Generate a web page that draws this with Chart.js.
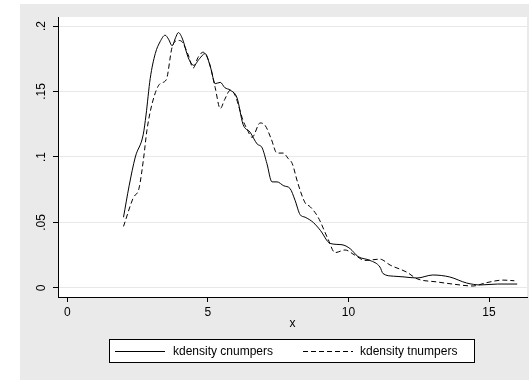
<!DOCTYPE html>
<html>
<head>
<meta charset="utf-8">
<script src="https://cdn.jsdelivr.net/npm/chart.js@4.4.1/dist/chart.umd.min.js"></script>
<style>
  html, body { margin: 0; padding: 0; background: #ffffff; }
  #wrap { width: 529px; height: 380px; position: relative; }
</style>
</head>
<body>
<div id="wrap"><canvas id="kd"></canvas></div>
<script>
// kdensity cnumpers (x, density)
const cnumX = [2.0, 2.2, 2.42, 2.7, 2.8, 2.95, 3.13, 3.3, 3.48, 3.6, 3.73, 3.85, 3.95, 4.1, 4.3, 4.5, 4.7, 4.9, 5.1, 5.26, 5.44, 5.6, 5.8, 6.04, 6.25, 6.5, 6.75, 6.93, 7.1, 7.28, 7.46, 7.7, 7.92, 8.1, 8.28, 8.46, 8.75, 9.0, 9.35, 9.77, 10.06, 10.34, 10.77, 11.12, 11.23, 11.6, 11.94, 12.44, 13.0, 13.6, 14.2, 14.7, 15.3, 16.0];
const cnumY = [0.054, 0.078, 0.1, 0.117, 0.132, 0.16, 0.179, 0.188, 0.193, 0.19, 0.185, 0.191, 0.195, 0.19, 0.176, 0.17, 0.175, 0.179, 0.168, 0.156, 0.157, 0.153, 0.151, 0.145, 0.125, 0.119, 0.11, 0.107, 0.095, 0.081, 0.081, 0.078, 0.076, 0.067, 0.056, 0.054, 0.05, 0.044, 0.034, 0.033, 0.03, 0.024, 0.021, 0.016, 0.011, 0.009, 0.0085, 0.0076, 0.0099, 0.0084, 0.0038, 0.0023, 0.003, 0.003];

// kdensity tnumpers (x, density)
const tnumX = [2.0, 2.35, 2.55, 2.72, 2.83, 3.02, 3.3, 3.52, 3.73, 3.95, 4.08, 4.3, 4.48, 4.65, 4.83, 5.05, 5.26, 5.44, 5.6, 5.8, 5.97, 6.25, 6.4, 6.57, 6.86, 7.04, 7.25, 7.46, 7.68, 7.85, 8.0, 8.2, 8.46, 8.64, 8.92, 9.28, 9.52, 9.88, 10.23, 10.59, 11.12, 11.48, 12.08, 12.44, 13.15, 13.7, 14.43, 14.9, 15.5, 15.9];
const tnumY = [0.047, 0.069, 0.076, 0.1, 0.12, 0.141, 0.156, 0.159, 0.184, 0.189, 0.188, 0.178, 0.168, 0.176, 0.18, 0.172, 0.153, 0.137, 0.144, 0.151, 0.147, 0.128, 0.121, 0.115, 0.126, 0.124, 0.114, 0.103, 0.103, 0.099, 0.095, 0.08, 0.065, 0.062, 0.054, 0.037, 0.027, 0.029, 0.025, 0.021, 0.022, 0.0175, 0.012, 0.007, 0.0046, 0.003, 0.0015, 0.004, 0.006, 0.0055];

const xTicks = [0, 5, 10, 15];
const yTicks = [0, 0.05, 0.1, 0.15, 0.2];
const yTickLabels = ['0', '.05', '.1', '.15', '.2'];
const seriesNames = ['kdensity cnumpers', 'kdensity tnumpers'];
const xTitle = 'x';

const FONT = 'Arial, "Liberation Sans", Helvetica, sans-serif';

function pairs(xs, ys) {
  return xs.map((x, i) => ({ x: x, y: ys[i] }));
}

// gray graph region behind a white plot area (Stata look)
const backdrop = {
  id: 'backdrop',
  beforeDraw(chart) {
    const ctx = chart.ctx;
    const a = chart.chartArea;
    ctx.save();
    ctx.fillStyle = '#ffffff';
    ctx.fillRect(0, 0, chart.width, chart.height);
    ctx.fillStyle = '#eaeaea';
    ctx.fillRect(20, 4, chart.width - 20, chart.height - 4);
    ctx.fillStyle = '#ffffff';
    ctx.fillRect(a.left, a.top, a.right - a.left, a.bottom - a.top);
    ctx.restore();
  }
};

// rotated y tick labels, x title and bordered legend
const extras = {
  id: 'extras',
  afterDraw(chart) {
    const ctx = chart.ctx;
    const ys = chart.scales.y;
    const xs = chart.scales.x;
    ctx.save();
    ctx.fillStyle = '#000';
    ctx.font = '12px ' + FONT;
    ctx.textAlign = 'center';
    ctx.textBaseline = 'bottom';
    yTicks.forEach((v, i) => {
      const py = ys.getPixelForValue(v);
      ctx.save();
      ctx.translate(48, py);
      ctx.rotate(-Math.PI / 2);
      ctx.fillText(yTickLabels[i], 0, 0);
      ctx.restore();
    });

    // x axis title
    ctx.textBaseline = 'middle';
    ctx.fillText(xTitle, (xs.left + xs.right) / 2, 324);

    // legend
    const lx = 109.5, ly = 339.5, lw = 365, lh = 23;
    ctx.fillStyle = '#ffffff';
    ctx.fillRect(lx, ly, lw, lh);
    ctx.strokeStyle = '#000';
    ctx.lineWidth = 1;
    ctx.strokeRect(lx, ly, lw, lh);
    const cy = ly + lh / 2;
    const ds = chart.data.datasets;
    const items = [
      { x0: 115, x1: 165, tx: 173 },
      { x0: 303, x1: 353, tx: 360 }
    ];
    items.forEach((it, i) => {
      ctx.beginPath();
      ctx.setLineDash(ds[i].borderDash || []);
      ctx.strokeStyle = ds[i].borderColor;
      ctx.lineWidth = ds[i].borderWidth;
      ctx.moveTo(it.x0, Math.round(cy) + 0.5);
      ctx.lineTo(it.x1, Math.round(cy) + 0.5);
      ctx.stroke();
      ctx.setLineDash([]);
      ctx.fillStyle = '#000';
      ctx.textAlign = 'left';
      ctx.textBaseline = 'middle';
      ctx.fillText(seriesNames[i], it.tx, cy + 1);
    });
    ctx.restore();
  }
};

new Chart(document.getElementById('kd'), {
  type: 'scatter',
  data: {
    datasets: [
      {
        label: seriesNames[0],
        data: pairs(cnumX, cnumY),
        showLine: true,
        borderColor: '#000',
        borderWidth: 1,
        pointRadius: 0,
        cubicInterpolationMode: 'monotone'
      },
      {
        label: seriesNames[1],
        data: pairs(tnumX, tnumY),
        showLine: true,
        borderColor: '#000',
        borderWidth: 1,
        borderDash: [5, 3],
        pointRadius: 0,
        cubicInterpolationMode: 'monotone'
      }
    ]
  },
  options: {
    responsive: true,
    maintainAspectRatio: false,
    animation: false,
    layout: { padding: { left: 0, top: 17, right: 2, bottom: 0 } },
    plugins: {
      legend: { display: false },
      tooltip: { enabled: false }
    },
    scales: {
      x: {
        type: 'linear',
        min: -0.33,
        max: 16.35,
        afterBuildTicks(scale) { scale.ticks = xTicks.map(v => ({ value: v })); },
        afterFit(scale) { scale.height = 83; },
        grid: { drawOnChartArea: false, drawTicks: true, tickLength: 5, tickColor: '#000' },
        border: { color: '#000', width: 1 },
        ticks: { color: '#000', font: { size: 12, family: FONT }, padding: 3, maxRotation: 0 }
      },
      y: {
        type: 'linear',
        min: -0.0069,
        max: 0.2069,
        afterBuildTicks(scale) { scale.ticks = yTicks.map(v => ({ value: v })); },
        afterFit(scale) { scale.width = 58; },
        grid: { color: '#e8e8e8', drawTicks: true, tickLength: 5, tickColor: '#000' },
        border: { color: '#000', width: 1 },
        ticks: { display: false }
      }
    }
  },
  plugins: [backdrop, extras]
});
</script>
</body>
</html>
